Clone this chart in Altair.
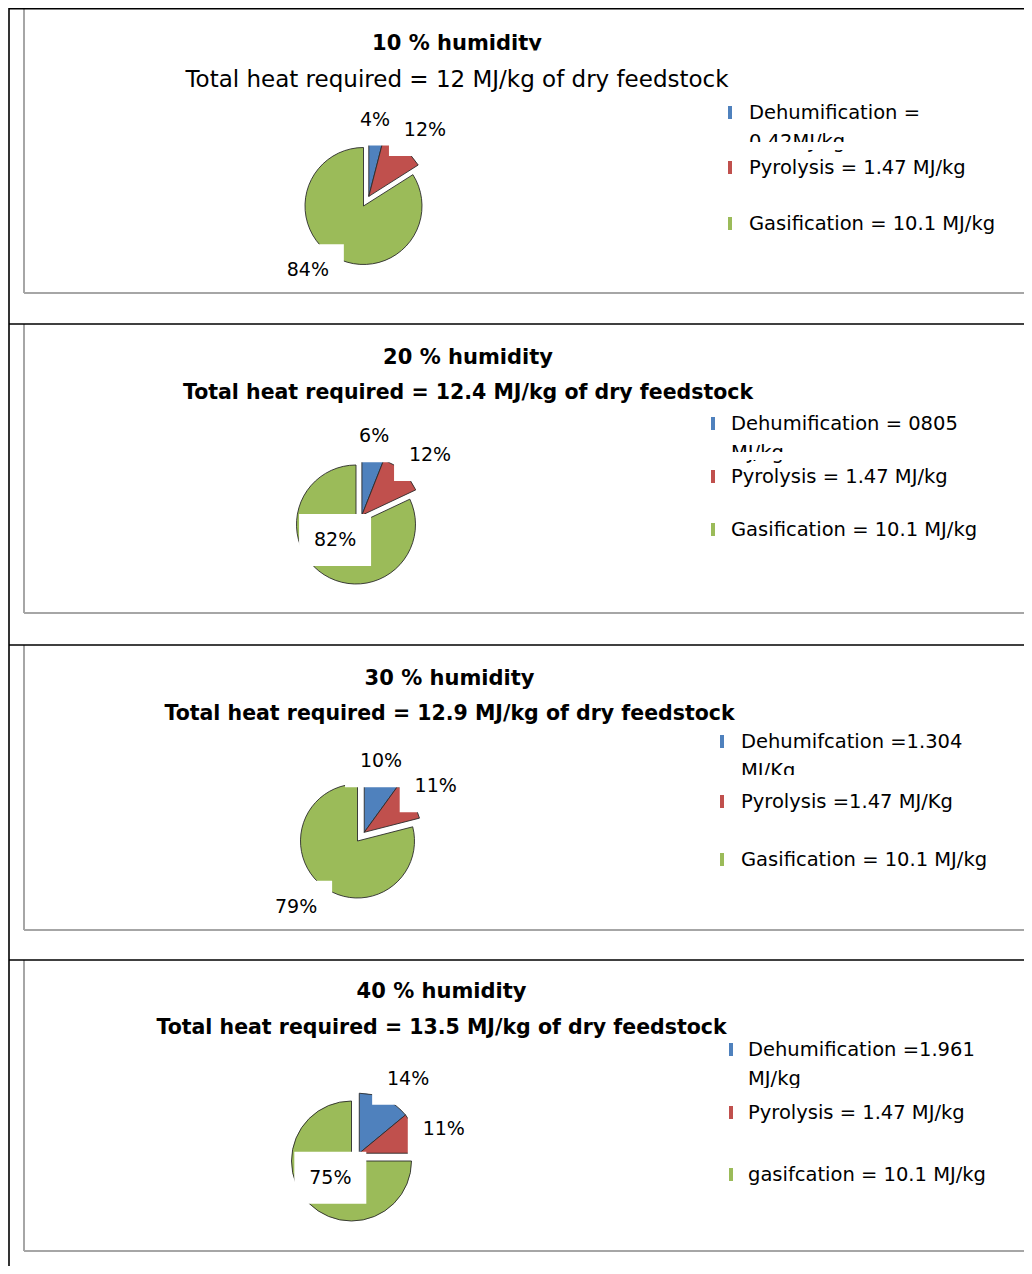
import math
import altair as alt
import pandas as pd

# ---------------- data ----------------
PANEL_TITLES = ["10 % humidity", "20 % humidity", "30 % humidity", "40 % humidity"]
PANEL_SUBTITLES = [
    "Total heat required = 12 MJ/kg of dry feedstock",
    "Total  heat required = 12.4 MJ/kg of dry feedstock",
    "Total heat required = 12.9 MJ/kg of dry feedstock",
    "Total heat required = 13.5 MJ/kg of dry feedstock",
]
SLICES = ["Dehumification", "Pyrolysis", "Gasification"]
PCT_10 = [4, 12, 84]
PCT_20 = [6, 12, 82]
PCT_30 = [10, 11, 79]
PCT_40 = [14, 11, 75]
PCTS = [PCT_10, PCT_20, PCT_30, PCT_40]

LEGEND_10 = [["Dehumification =", "0.42MJ/kg"], ["Pyrolysis = 1.47 MJ/kg"], ["Gasification = 10.1 MJ/kg"]]
LEGEND_20 = [["Dehumification = 0805", "MJ/kg"], ["Pyrolysis = 1.47 MJ/kg"], ["Gasification = 10.1 MJ/kg"]]
LEGEND_30 = [["Dehumifcation =1.304", "MJ/Kg"], ["Pyrolysis =1.47 MJ/Kg"], ["Gasification = 10.1 MJ/kg"]]
LEGEND_40 = [["Dehumification =1.961", "MJ/kg"], ["Pyrolysis = 1.47 MJ/kg"], ["gasifcation = 10.1 MJ/kg"]]
LEGENDS = [LEGEND_10, LEGEND_20, LEGEND_30, LEGEND_40]

# ---------------- layout / style (page pixels) ----------------
COLORS = ["#4F81BD", "#C0504D", "#9BBB59"]
FONT = "DejaVu Sans"
ORIGIN = 8
W, H = 1016, 1258

PIE_CENTER = [(363.5, 206), (356, 524.5), (357.5, 841), (351.5, 1161)]
PIE_R = [58.5, 59.5, 57, 60]
EXPLODE = 11
LABEL_R = [[77, 87, 85], [80, 91, 26], [73, 85, 90], [89, 88, 27]]
LABEL_NUDGE = [[-2.6, 4.2, 12.1], [-2, 5.3, 21.2], [-4.7, 1.4, 5.2], [8.1, 3.6, 6.7]]
BOX_W, BOX_H = 72, 52

TITLE_X = [457, 468, 449.5, 441.5]
TITLE_BASE = [50, 364, 685, 998]
SUB_BASE = [87, 399, 720, 1034]
SUB_BOLD = [False, True, True, True]
LEG_MARK_X = [728, 711, 720, 729]
LEG_TEXT_X = [749, 731, 741, 748]
LEG_BASE = [[119, 174, 230], [430, 483, 536], [748, 808, 866], [1056, 1119, 1181]]
LEG_LINE2 = 29
LEG_CLIP = [142, 452, 775, 1088]
BLACK_Y = [6, 324, 645, 960]
BOX_BOTTOM = [293, 613, 930, 1251]
BOX_LEFT = 24


def P(v):
    return v - ORIGIN


# ---------------- tables ----------------
slice_rows = []
for p, pcts in enumerate(PCTS):
    cx, cy = PIE_CENTER[p]
    grp = (pcts[0] + pcts[1]) * 3.6 / 2
    dx = EXPLODE * math.sin(math.radians(grp))
    dy = -EXPLODE * math.cos(math.radians(grp))
    cum = 0
    for i, (name, v) in enumerate(zip(SLICES, pcts)):
        start, end = cum, cum + v
        cum = end
        ccx, ccy = (cx + dx, cy + dy) if i < 2 else (cx, cy)
        ang = math.radians((start + end) / 2 * 3.6 + LABEL_NUDGE[p][i])
        lx = ccx + LABEL_R[p][i] * math.sin(ang)
        ly = ccy - LABEL_R[p][i] * math.cos(ang)
        slice_rows.append(dict(
            panel=p, slice=name, start=start, end=end,
            acx=P(ccx), acy=P(ccy), R=PIE_R[p], label=f"{v}%",
            lx=P(lx), ly=P(ly),
            bx0=P(lx - BOX_W / 2), bx1=P(lx + BOX_W / 2),
            by0=P(ly - BOX_H / 2), by1=P(ly + BOX_H / 2),
        ))
slices = pd.DataFrame(slice_rows)

leg_text_rows, leg_mark_rows, clip_rows = [], [], []
for p, leg in enumerate(LEGENDS):
    for i, entry in enumerate(leg):
        base = LEG_BASE[p][i]
        for k, line in enumerate(entry):
            leg_text_rows.append(dict(x=P(LEG_TEXT_X[p]), y=P(base + k * LEG_LINE2), text=line))
        leg_mark_rows.append(dict(slice=SLICES[i], x=P(LEG_MARK_X[p]), x2=P(LEG_MARK_X[p] + 4),
                                  y=P(base - 13), y2=P(base)))
    clip_rows.append(dict(x=P(LEG_TEXT_X[p] - 2), x2=P(LEG_TEXT_X[p] + 140),
                          y=P(LEG_CLIP[p]), y2=P(LEG_CLIP[p] + 8)))
leg_text = pd.DataFrame(leg_text_rows)
leg_mark = pd.DataFrame(leg_mark_rows)
clips = pd.DataFrame(clip_rows)
# top title of the first panel is cut at its baseline in the original
title_clip = pd.DataFrame([dict(x=P(TITLE_X[0] - 100), x2=P(TITLE_X[0] + 100),
                                y=P(TITLE_BASE[0] + 0.5), y2=P(TITLE_BASE[0] + 10))])

bold_rows, reg_rows = [], []
for p in range(4):
    bold_rows.append(dict(x=P(TITLE_X[p]), y=P(TITLE_BASE[p]), text=PANEL_TITLES[p], fs=21))
    if SUB_BOLD[p]:
        bold_rows.append(dict(x=P(TITLE_X[p]), y=P(SUB_BASE[p]), text=PANEL_SUBTITLES[p], fs=20.5))
    else:
        reg_rows.append(dict(x=P(TITLE_X[p]), y=P(SUB_BASE[p]), text=PANEL_SUBTITLES[p], fs=23))
bold_t = pd.DataFrame(bold_rows)
reg_t = pd.DataFrame(reg_rows)

gray_rows, black_rows = [], []
for p in range(4):
    gray_rows.append(dict(x=P(BOX_LEFT), x2=P(BOX_LEFT), y=max(P(BLACK_Y[p]), 0), y2=P(BOX_BOTTOM[p])))
    gray_rows.append(dict(x=P(BOX_LEFT), x2=W + 10, y=P(BOX_BOTTOM[p]), y2=P(BOX_BOTTOM[p])))
    black_rows.append(dict(x=1, x2=W + 10, y=max(P(BLACK_Y[p]), 0.75), y2=max(P(BLACK_Y[p]), 0.75)))
black_rows.append(dict(x=1, x2=1, y=0, y2=H + 10))
gray = pd.DataFrame(gray_rows)
black = pd.DataFrame(black_rows)

# ---------------- chart ----------------
def X(f):
    return alt.X(f, scale=None, axis=None)


def Y(f):
    return alt.Y(f, scale=None, axis=None)


color = alt.Color("slice:N", scale=alt.Scale(domain=SLICES, range=COLORS), legend=None)

arcs = alt.Chart(slices).mark_arc(stroke="#2b2b2b", strokeWidth=0.9).encode(
    theta=alt.Theta("start:Q", scale=alt.Scale(domain=[0, 100], range=[0, 2 * math.pi])),
    theta2="end:Q",
    x=X("acx:Q"), y=Y("acy:Q"),
    radius=alt.Radius("R:Q", scale=None),
    color=color,
)
boxes = alt.Chart(slices).mark_rect(fill="white", stroke=None).encode(
    x=X("bx0:Q"), x2="bx1:Q", y=Y("by0:Q"), y2="by1:Q")
labels = alt.Chart(slices).mark_text(font=FONT, fontSize=19, color="black",
                                     align="center", baseline="middle").encode(
    x=X("lx:Q"), y=Y("ly:Q"), text="label:N")

marks = alt.Chart(leg_mark).mark_rect().encode(
    x=X("x:Q"), x2="x2:Q", y=Y("y:Q"), y2="y2:Q", color=color)
ltext = alt.Chart(leg_text).mark_text(font=FONT, fontSize=19.5, color="black",
                                      align="left", baseline="alphabetic").encode(
    x=X("x:Q"), y=Y("y:Q"), text="text:N")
clipr = alt.Chart(clips).mark_rect(fill="white", stroke=None).encode(
    x=X("x:Q"), x2="x2:Q", y=Y("y:Q"), y2="y2:Q")

btext = alt.Chart(bold_t).mark_text(font=FONT, fontWeight="bold", color="black",
                                    align="center", baseline="alphabetic").encode(
    x=X("x:Q"), y=Y("y:Q"), text="text:N", size=alt.Size("fs:Q", scale=None, legend=None))
rtext = alt.Chart(reg_t).mark_text(font=FONT, color="black",
                                   align="center", baseline="alphabetic").encode(
    x=X("x:Q"), y=Y("y:Q"), text="text:N", size=alt.Size("fs:Q", scale=None, legend=None))
tclip = alt.Chart(title_clip).mark_rect(fill="white", stroke=None).encode(
    x=X("x:Q"), x2="x2:Q", y=Y("y:Q"), y2="y2:Q")

gray_l = alt.Chart(gray).mark_rule(color="#A6A6A6", strokeWidth=2).encode(
    x=X("x:Q"), x2="x2:Q", y=Y("y:Q"), y2="y2:Q")
black_l = alt.Chart(black).mark_rule(color="black", strokeWidth=1.6).encode(
    x=X("x:Q"), x2="x2:Q", y=Y("y:Q"), y2="y2:Q")

chart = alt.layer(arcs, boxes, labels, marks, ltext, clipr, btext, rtext, tclip,
                  gray_l, black_l).properties(
    width=W, height=H, padding=0,
    autosize=alt.AutoSizeParams(type="none"),
    background="white",
).configure_view(stroke=None)

chart.save("out.html", embed_options={"renderer": "svg", "actions": False})
